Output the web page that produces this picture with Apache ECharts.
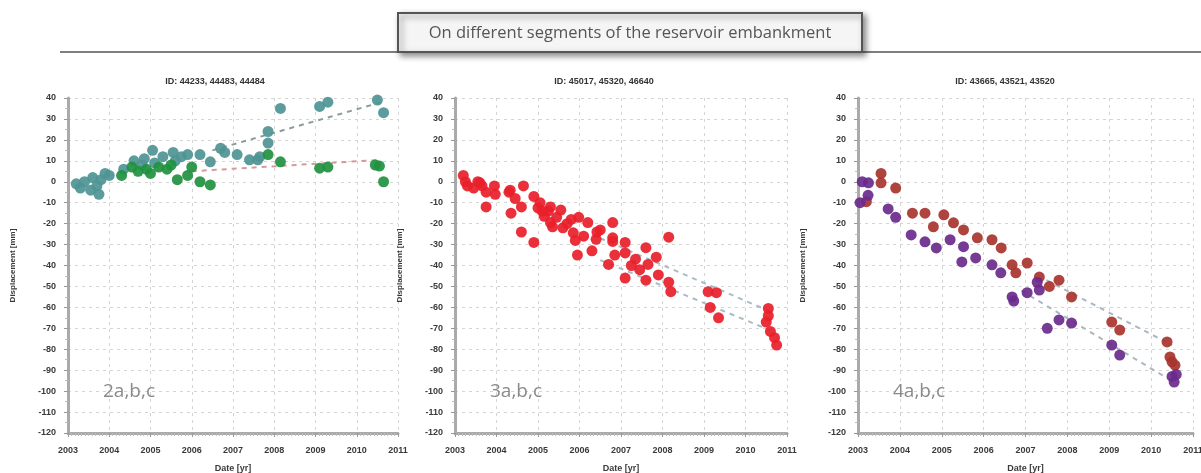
<!DOCTYPE html>
<html>
<head>
<meta charset="utf-8">
<script src="https://cdn.jsdelivr.net/npm/echarts@6/dist/echarts.min.js"></script>
<style>
html,body{margin:0;padding:0;background:#fff;}
#c{width:1201px;height:473px;}
</style>
</head>
<body>
<div id="c"></div>
<script>
// ---- data ----
const mainTitle = 'On different segments of the reservoir embankment';
const panelTitles = ['ID: 44233, 44483, 44484', 'ID: 45017, 45320, 46640', 'ID: 43665, 43521, 43520'];
const panelNotes = ['2a,b,c', '3a,b,c', '4a,b,c'];
const xMin = 2003, xMax = 2011, yMin = -120, yMax = 40;

const p1Teal = [[2003.2,-1],[2003.3,-3],[2003.4,0],[2003.55,-4],[2003.6,2],[2003.7,-2],[2003.75,-6],[2003.8,1],[2003.9,4],
  [2004.0,3],[2004.35,6],[2004.6,10],[2004.8,8],[2004.85,11],[2005.05,15],[2005.1,9],[2005.3,12],[2005.55,14],[2005.6,10],
  [2005.75,12],[2005.9,13],[2006.2,13],[2006.45,9.5],[2006.7,16],[2006.8,14],[2007.1,13],[2007.4,10.5],[2007.6,10.5],
  [2007.65,12],[2007.85,24],[2007.85,18.5],[2008.15,35],[2009.1,36],[2009.3,38],[2010.5,39],[2010.65,33]];
const p1Green = [[2004.3,3],[2004.55,7],[2004.7,5],[2004.9,6],[2005.0,4],[2005.2,7],[2005.4,6],[2005.5,8],[2005.65,1],
  [2005.9,3],[2006.0,7],[2006.2,0],[2006.45,-1.5],[2007.85,13],[2008.15,9.5],[2009.1,6.5],[2009.3,7],[2010.45,8],
  [2010.55,7.5],[2010.65,0]];
const p1TealTrend = [[2006.5,15],[2010.6,38]];
const p1GreenTrend = [[2006.0,5],[2010.6,10.5]];

const p2Red = [[2003.2,3],[2003.25,0],[2003.3,-2],[2003.55,0],[2003.6,-0.5],[2003.65,-2],[2003.75,-5],[2003.95,-2],[2003.97,-6],
  [2003.75,-12],[2004.3,-5],[2004.33,-4],[2004.35,-15],[2004.65,-2],[2004.6,-12],[2004.6,-24],[2004.9,-7],[2004.9,-29],
  [2005.0,-12.5],[2005.05,-10],[2005.15,-16.5],[2005.3,-19.5],[2005.25,-14],[2005.3,-12],[2005.35,-21.5],[2005.55,-13.5],
  [2005.6,-22],[2005.45,-17],[2005.8,-18],[2005.9,-28],[2005.85,-24.4],[2005.98,-17],[2005.95,-35],[2006.2,-19.5],
  [2006.3,-33],[2006.4,-27.5],[2006.42,-24],[2006.5,-23],[2006.7,-39.5],[2006.8,-19.5],[2006.8,-26.8],[2006.8,-28.5],
  [2006.85,-35],[2007.1,-29],[2007.1,-46],[2007.1,-34],[2007.35,-37],[2007.45,-42],[2007.6,-31.5],[2007.6,-47],
  [2007.65,-39.5],[2007.85,-36],[2007.9,-44.5],[2008.15,-26.5],[2008.15,-48],[2008.2,-52.5],[2009.1,-52.5],
  [2009.15,-60],[2009.3,-53],[2009.35,-65],[2010.55,-60.5],[2010.55,-64],[2010.5,-67],[2010.6,-71.5],[2010.7,-74.5],
  [2010.75,-78],[2005.1,-14],[2005.7,-20],[2006.1,-26],[2007.25,-40],[2004.45,-8],[2003.45,-3]];
const p2TrendA = [[2006.5,-27],[2010.6,-62]];
const p2TrendB = [[2006.5,-37.4],[2010.6,-71]];

const p3Brown = [[2003.55,4],[2003.55,-0.5],[2003.9,-3],[2003.2,-9.5],[2004.3,-15],[2004.6,-15],[2004.8,-21.5],[2005.05,-15.8],
  [2005.28,-19.6],[2005.52,-23],[2005.85,-26.8],[2006.2,-27.7],[2006.42,-31.6],[2006.68,-39.7],[2006.77,-43.5],
  [2007.04,-38.8],[2007.33,-45.5],[2007.57,-50],[2007.8,-47],[2008.1,-55],[2009.06,-67],[2009.25,-70.8],
  [2010.38,-76.5],[2010.45,-83.7],[2010.5,-86],[2010.57,-87.6]];
const p3Purple = [[2003.1,0],[2003.25,-0.5],[2003.05,-10],[2003.24,-6.5],[2003.72,-13],[2003.9,-17],[2004.27,-25.4],
  [2004.6,-28.7],[2004.87,-31.6],[2005.2,-27.7],[2005.52,-31],[2005.48,-38.3],[2005.81,-36.4],[2006.2,-39.7],
  [2006.41,-43.5],[2006.68,-55],[2006.72,-57],[2007.04,-53],[2007.28,-48],[2007.33,-51.7],[2007.52,-70],[2007.8,-66],
  [2008.1,-67.5],[2009.06,-78],[2009.25,-82.8],[2010.5,-93],[2010.55,-95.7],[2010.6,-92]];
const p3BrownTrend = [[2007.5,-47],[2010.5,-78]];
const p3PurpleTrend = [[2006.9,-52],[2010.4,-94]];

// ---- chart ----
const grids = [
  {left: 68, top: 98, width: 330, height: 335, outerBoundsMode: 'none', containLabel: false},
  {left: 455, top: 98, width: 332, height: 335, outerBoundsMode: 'none', containLabel: false},
  {left: 858, top: 98, width: 335, height: 335, outerBoundsMode: 'none', containLabel: false}
];
const titleX = [210, 599, 1000];
const noteX = [103, 490, 893];

const labelFont = {fontFamily: 'Liberation Sans', fontWeight: 'bold', fontSize: 9, color: '#3a3a3a'};

function xAx(i){
  return {
    type: 'value', gridIndex: i, min: xMin, max: xMax, interval: 1,
    name: 'Date [yr]', nameLocation: 'middle', nameGap: 31,
    nameTextStyle: {fontFamily: 'Liberation Sans', fontWeight: 'bold', fontSize: 9, color: '#3a3a3a'},
    axisLine: {show: true, onZero: false, lineStyle: {color: '#aaa', width: 3}},
    axisTick: {show: true, length: 4, lineStyle: {color: '#999'}},
    minorTick: {show: true, splitNumber: 12, length: 3, lineStyle: {color: '#bbb'}},
    axisLabel: Object.assign({margin: 13, formatter: v => String(v)}, labelFont),
    splitLine: {show: true, lineStyle: {color: '#d4d4d4', type: [3, 4], width: 1}}
  };
}
function yAx(i){
  return {
    type: 'value', gridIndex: i, min: yMin, max: yMax, interval: 10,
    name: 'Displacement [mm]', nameLocation: 'middle', nameGap: 51, nameRotate: 90,
    nameTextStyle: {fontFamily: 'Liberation Sans', fontWeight: 'bold', fontSize: 8, color: '#3a3a3a'},
    axisLine: {show: true, onZero: false, lineStyle: {color: '#aaa', width: 3}},
    axisTick: {show: true, length: 4, lineStyle: {color: '#999'}},
    minorTick: {show: true, splitNumber: 2, length: 3, lineStyle: {color: '#bbb'}},
    axisLabel: Object.assign({margin: 12}, labelFont),
    splitLine: {show: true, lineStyle: {color: '#d4d4d4', type: [3, 4], width: 1}}
  };
}
function scat(i, data, color){
  return {type: 'scatter', xAxisIndex: i, yAxisIndex: i, data: data, symbol: 'circle', symbolSize: 11,
    itemStyle: {color: color, opacity: 0.92}, z: 3, silent: true};
}
function trend(i, data, color){
  return {type: 'line', xAxisIndex: i, yAxisIndex: i, data: data, symbol: 'none', silent: true,
    lineStyle: {color: color, width: 2, type: [5, 5]}, z: 2};
}

const chart = echarts.init(document.getElementById('c'), null, {renderer: 'canvas'});
chart.setOption({
  backgroundColor: '#fff',
  animation: false,
  title: panelTitles.map((t, i) => ({
    text: t, left: titleX[i], top: 72, textAlign: 'center',
    textStyle: {fontFamily: 'Liberation Sans', fontWeight: 'bold', fontSize: 9, color: '#333'}
  })),
  grid: grids,
  xAxis: [0, 1, 2].map(xAx),
  yAxis: [0, 1, 2].map(yAx),
  series: [
    trend(0, p1TealTrend, '#8a9c9c'),
    trend(0, p1GreenTrend, '#d79a9a'),
    scat(0, p1Teal, '#4f9494'),
    scat(0, p1Green, '#1f9140'),
    trend(1, p2TrendA, '#a9bcc6'),
    trend(1, p2TrendB, '#a9bcc6'),
    scat(1, p2Red, '#e8202a'),
    trend(2, p3BrownTrend, '#a9b8c0'),
    trend(2, p3PurpleTrend, '#a9b8c0'),
    scat(2, p3Brown, '#a8342f'),
    scat(2, p3Purple, '#6a2a8c')
  ],
  graphic: [
    {type: 'line', shape: {x1: 60, y1: 52, x2: 1201, y2: 52}, style: {stroke: '#555', lineWidth: 1.5}, z: 10},
    {type: 'rect', shape: {x: 398, y: 13, width: 464, height: 39},
      style: {fill: '#f5f5f5', stroke: '#555', lineWidth: 2, shadowBlur: 6, shadowOffsetX: 3, shadowOffsetY: 3, shadowColor: 'rgba(0,0,0,0.45)'}, z: 11},
    {type: 'text', x: 630, y: 33, style: {text: mainTitle, fontFamily: 'Open Sans', fontSize: 16.5, fill: '#555', align: 'center', verticalAlign: 'middle'}, z: 12}
  ].concat(panelNotes.map((t, i) => ({
    type: 'text', x: noteX[i], y: 392, z: 12,
    style: {text: t, fontFamily: 'Open Sans', fontSize: 19, fill: '#8a8a8a', verticalAlign: 'middle'}
  })))
});
</script>
</body>
</html>
